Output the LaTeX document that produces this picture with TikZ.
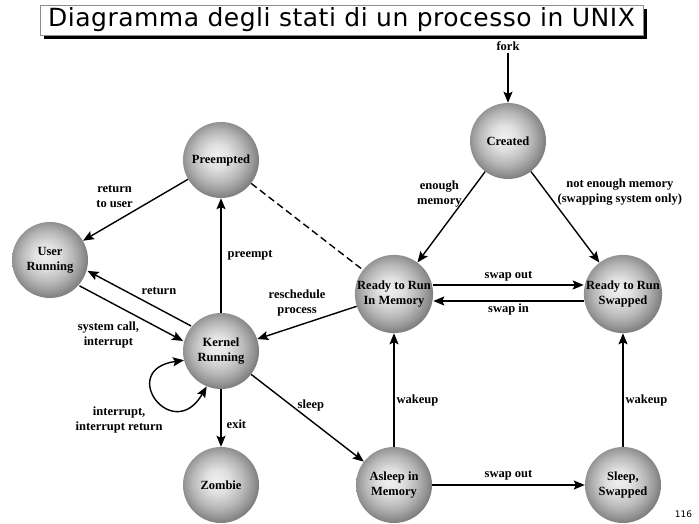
\documentclass[tikz,border=0pt]{standalone}
\usepackage{fontspec}
\setmainfont{Liberation Serif}
\newfontfamily\titlefont[LetterSpace=2]{DejaVu Sans}
\newfontfamily\pagefont{DejaVu Sans}
\usepackage{tikz}
\usetikzlibrary{arrows.meta}
\usetikzlibrary{shadows}
\pgfdeclareradialshading{grayball}{\pgfpoint{-3bp}{3bp}}{color(0bp)=(black!6); color(8bp)=(black!12); color(17bp)=(black!28); color(23bp)=(black!42); color(26bp)=(black!50); color(50bp)=(black!50)}
\tikzset{
  statenode/.style={circle, minimum size=76pt, inner sep=0pt, shading=grayball, align=center,
    font=\bfseries\fontsize{12.5}{15}\selectfont},
  lbl/.style={align=center, inner sep=2pt, font=\bfseries\fontsize{12.5}{15}\selectfont},
  trans/.style={->, line width=1.4pt},
  titlebox/.style={draw=black!45, fill=white, minimum width=603pt, minimum height=30pt, inner sep=0pt,
    drop shadow={shadow xshift=4pt, shadow yshift=-4pt, fill=black, opacity=1},
    font=\titlefont\fontsize{25}{28}\selectfont}
}

\begin{document}
\begin{tikzpicture}[x=1pt, y=1pt, >={Stealth[length=11pt, width=9pt, inset=2pt]}]
\useasboundingbox (0,0) rectangle (699,-524);
\node[titlebox] (title) at (341.5,-20) {Diagramma degli stati di un processo in UNIX};
\foreach \n/\x/\y/\t in {created/508/141/Created, preempted/221/160/Preempted,
  userrun/50/260/{User\\Running}, readymem/394/294/{Ready to Run\\In Memory},
  readyswap/623/294/{Ready to Run\\Swapped}, kernelrun/221/351/{Kernel\\Running},
  zombie/221/485/Zombie, asleepmem/394/485/{Asleep in\\Memory},
  sleepswap/623/485/{Sleep,\\Swapped}} {
 \node[statenode] (\n) at (\x,-\y) {\t};
}
\node[lbl] (fork) at (508,-46) {fork};
\draw[trans] (fork) -- (created);
\draw[trans] (created) -- node[lbl, pos=.25, left=4pt] (lblenough) {enough\\memory} (readymem);
\draw[trans] (created) -- node[lbl, pos=.22, right=9pt] (lblnotenough) {not enough memory\\(swapping system only)} (readyswap);
\draw[trans] ([yshift=9pt]readymem.east) -- node[lbl, above=1pt] (lblswapout) {swap out} ([yshift=9pt]readyswap.west);
\draw[trans] ([yshift=-7pt]readyswap.west) -- node[lbl, below] (lblswapin) {swap in} ([yshift=-7pt]readymem.east);
\draw[line width=1.4pt, dash pattern=on 7pt off 4pt] (preempted) -- (readymem);
\draw[trans] (readymem) -- node[lbl, pos=.6, above=7pt] (lblresched) {reschedule\\process} (kernelrun);
\draw[trans] (kernelrun) -- node[lbl, right=4pt] (lblpreempt) {preempt} (preempted);
\draw[trans] (preempted) -- node[lbl, pos=.5, above left] (lblrettouser) {return\\to user} (userrun);
\draw[trans, transform canvas={shift={(3.8,7.1)}}] (kernelrun) -- node[lbl, pos=.31, above=12pt] (lblreturn) {return} (userrun);
\draw[trans, transform canvas={shift={(-4.2,-7.9)}}] (userrun) -- node[lbl, pos=.6, below left=0pt] (lblsyscall) {system call,\\interrupt} (kernelrun);
\draw[<->, line width=1.4pt] (kernelrun.194) to[out=188, in=240, distance=68pt] node[lbl, pos=.5, anchor=north east, xshift=8pt, yshift=-5pt] (lblinterrupt) {interrupt,\\interrupt return} (kernelrun.248);
\draw[trans] (kernelrun) -- node[lbl, pos=.6, right=3pt] (lblexit) {exit} (zombie);
\draw[trans] (kernelrun) -- node[lbl, pos=.53, above=7pt] (lblsleep) {sleep} (asleepmem);
\draw[trans] (asleepmem) -- node[lbl, pos=.41, right=0pt] (lblwakeup) {wakeup} (readymem);
\draw[trans] (asleepmem) -- node[lbl, above=2pt] (lblswapsleep) {swap out} (sleepswap);
\draw[trans] (sleepswap) -- node[lbl, pos=.41, right=0pt] (lblwakeswap) {wakeup} (readyswap);
\node[font=\pagefont\fontsize{9}{10}\selectfont] (pagenum) at (683.5,-514) {116};
\end{tikzpicture}
\end{document}
